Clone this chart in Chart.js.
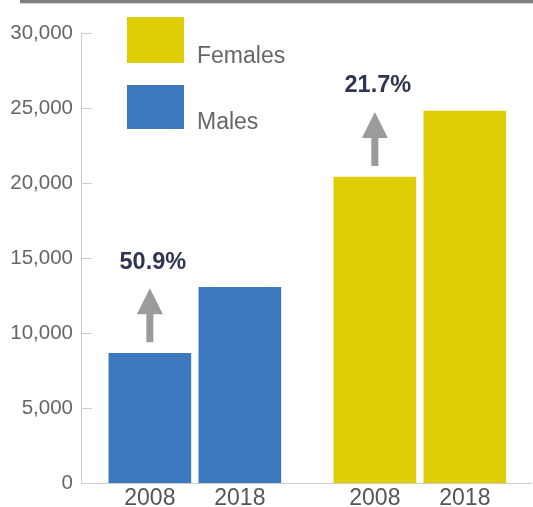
<!DOCTYPE html>
<html>
<head>
<meta charset="utf-8">
<script src="https://cdn.jsdelivr.net/npm/chart.js@4"></script>
<style>
  html, body { margin: 0; padding: 0; background: #fff; }
  #wrap { width: 533px; height: 507px; position: relative; }
</style>
</head>
<body>
<div id="wrap"><canvas id="c" width="533" height="507"></canvas></div>
<script>
// ---- data ----
const seriesNames = ["Males", "Females"];
const years = ["2008", "2018"];
const malesValues = [8650, 13050];
const femalesValues = [20400, 24800];
const changeLabels = ["50.9%", "21.7%"];
const xTickLabels = ["2008", "2018", "2008", "2018"];
const yTickValues = [0, 5000, 10000, 15000, 20000, 25000, 30000];

// ---- layout (slot positions on the x axis) ----
const malesSlots = [0, 1];
const femalesSlots = [2.5, 3.5];
const allSlots = malesSlots.concat(femalesSlots);

const BLUE = "#3b78be";
const YELLOW = "#dccd05";

const FONT = "'Liberation Sans', Arial, sans-serif";

const decorPlugin = {
  id: "decor",
  afterDraw(chart) {
    const ctx = chart.ctx;
    const xs = chart.scales.x, ys = chart.scales.y;
    const area = chart.chartArea;
    ctx.save();
    // header rule
    ctx.fillStyle = "#808080";
    ctx.fillRect(20, 0, 513, 3);
    ctx.fillStyle = "#d4d4d4";
    ctx.fillRect(20, 3, 513, 1);

    // inward y tick marks
    ctx.strokeStyle = "#cccccc";
    ctx.lineWidth = 1;
    yTickValues.forEach(v => {
      const y = Math.round(ys.getPixelForValue(v)) + 0.5;
      ctx.beginPath();
      ctx.moveTo(area.left, y);
      ctx.lineTo(area.left + 11, y);
      ctx.stroke();
    });

    // legend
    const legendItems = [
      { label: seriesNames[1], color: YELLOW, top: 17, h: 46 },
      { label: seriesNames[0], color: BLUE, top: 85, h: 44 }
    ];
    legendItems.forEach(it => {
      ctx.fillStyle = it.color;
      ctx.fillRect(127, it.top, 57, it.h);
      ctx.fillStyle = "#666666";
      ctx.font = "23px " + FONT;
      ctx.textAlign = "left";
      ctx.textBaseline = "alphabetic";
      ctx.fillText(it.label, 197, it.top + it.h);
    });

    // growth arrows + labels
    const groups = [
      { slot: malesSlots[0], vals: malesValues, label: changeLabels[0] },
      { slot: femalesSlots[0], vals: femalesValues, label: changeLabels[1] }
    ];
    groups.forEach(g => {
      const cx = xs.getPixelForValue(g.slot);
      const yBottom = ys.getPixelForValue(g.vals[0]) - 11;
      const yTip = ys.getPixelForValue(g.vals[1]) + 1;
      const headH = 26, headW = 26, shaftW = 7;
      ctx.fillStyle = "#9b9b9b";
      ctx.fillRect(cx - shaftW / 2, yTip + headH - 1, shaftW, yBottom - (yTip + headH - 1));
      ctx.beginPath();
      ctx.moveTo(cx, yTip);
      ctx.lineTo(cx - headW / 2, yTip + headH);
      ctx.lineTo(cx + headW / 2, yTip + headH);
      ctx.closePath();
      ctx.fill();
      ctx.fillStyle = "#2f3553";
      ctx.font = "bold 23.5px " + FONT;
      ctx.textAlign = "center";
      ctx.textBaseline = "middle";
      ctx.fillText(g.label, cx + 3, yTip - 26);
    });
    ctx.restore();
  }
};

new Chart(document.getElementById("c"), {
  type: "bar",
  data: {
    datasets: [
      {
        label: seriesNames[0],
        data: malesValues.map((v, i) => ({ x: malesSlots[i], y: v })),
        backgroundColor: BLUE
      },
      {
        label: seriesNames[1],
        data: femalesValues.map((v, i) => ({ x: femalesSlots[i], y: v })),
        backgroundColor: YELLOW
      }
    ]
  },
  options: {
    responsive: false,
    animation: false,
    devicePixelRatio: 1,
    layout: { padding: { left: 0, right: 2, top: 33, bottom: 0 } },
    datasets: { bar: { grouped: false, barThickness: 82, borderWidth: 0 } },
    plugins: { legend: { display: false }, tooltip: { enabled: false } },
    scales: {
      x: {
        type: "linear",
        offset: false,
        min: -0.765,
        max: 4.235,
        afterBuildTicks(scale) { scale.ticks = allSlots.map(v => ({ value: v })); },
        afterFit(scale) { scale.height = 24; },
        grid: { display: false, drawTicks: false, offset: false },
        border: { color: "#cccccc", width: 1 },
        ticks: {
          autoSkip: false,
          maxRotation: 0,
          padding: 2,
          color: "#555555",
          font: { family: FONT, size: 23 },
          callback(value) {
            const i = allSlots.indexOf(value);
            return i >= 0 ? xTickLabels[i] : "";
          }
        }
      },
      y: {
        min: 0,
        max: 30000,
        afterBuildTicks(scale) { scale.ticks = yTickValues.map(v => ({ value: v })); },
        afterFit(scale) { scale.width = 81; },
        grid: { display: false, drawTicks: false },
        border: { color: "#cccccc", width: 1 },
        ticks: {
          padding: 8,
          color: "#666666",
          font: { family: FONT, size: 20.5 },
          callback(value) { return value.toLocaleString("en-US"); }
        }
      }
    }
  },
  plugins: [decorPlugin]
});
</script>
</body>
</html>
